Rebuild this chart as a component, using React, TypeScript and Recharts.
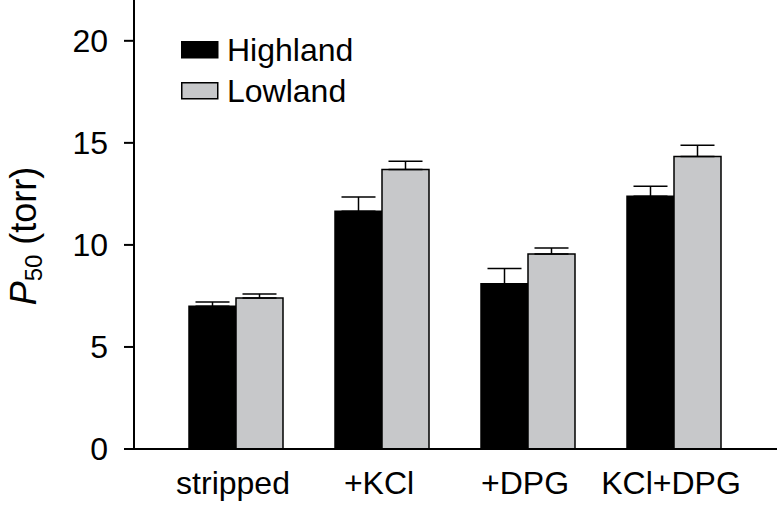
import { BarChart, Bar, XAxis, YAxis, ErrorBar } from 'recharts';

const categories = ['stripped', '+KCl', '+DPG', 'KCl+DPG'];
const highland = [7.0, 11.65, 8.1, 12.38];
const highlandErr = [0.2, 0.7, 0.75, 0.5];
const lowland = [7.4, 13.7, 9.55, 14.33];
const lowlandErr = [0.2, 0.4, 0.3, 0.55];
const yTicks = [0, 5, 10, 15, 20];

const FONT = '"Liberation Sans", Arial, sans-serif';
const GRAY = '#c7c8ca';

// error bars only point up, so lower bound is 0
const data = categories.map((name, i) => ({
  name,
  highland: highland[i],
  hErr: [0, highlandErr[i]],
  lowland: lowland[i],
  lErr: [0, lowlandErr[i]],
}));

function LegendBox() {
  const items = [
    { label: 'Highland', fill: '#000' },
    { label: 'Lowland', fill: GRAY },
  ];
  const top = 20;
  return (
    <svg width={240} height={110} style={{ display: 'block' }}>
      {items.map((it, i) => (
        <g key={it.label}>
          <rect x={0.75} y={top + 0.75 + i * 41} width={36} height={16} fill={it.fill} stroke="#000" strokeWidth={1.5} />
          <text x={46} y={top + 8.5 + i * 41} dy="0.355em" fontSize={32} fontFamily={FONT} fill="#000">
            {it.label}
          </text>
        </g>
      ))}
    </svg>
  );
}

function YLabel() {
  const x = 36;
  const y = 236;
  return (
    <text
      x={x}
      y={y}
      transform={`rotate(-90 ${x} ${y})`}
      textAnchor="middle"
      fontFamily={FONT}
      fontSize={36}
      fill="#000"
    >
      <tspan fontStyle="italic">P</tspan>
      <tspan fontSize={24} dy={6}>50</tspan>
      <tspan dy={-6}> (torr)</tspan>
    </text>
  );
}

export default function App() {
  return (
    <div style={{ position: 'absolute', left: 0, top: 0, width: 777, height: 506, background: '#fff' }}>
      <BarChart
        width={777}
        height={506}
        data={data}
        margin={{ top: 0, right: 0, left: 0, bottom: 0 }}
        barGap={0}
        barSize={47}
      >
        <XAxis
          dataKey="name"
          height={57}
          interval={0}
          padding={{ left: 29, right: 30 }}
          axisLine={{ stroke: '#000', strokeWidth: 2 }}
          tickLine={false}
          tickSize={0}
          tickMargin={22}
          tick={{ fontSize: 32, fontFamily: FONT, fill: '#000', dx: -3 }}
        />
        <YAxis
          width={134}
          domain={[0, 22]}
          ticks={yTicks}
          allowDataOverflow
          axisLine={{ stroke: '#000', strokeWidth: 2 }}
          tickLine={{ stroke: '#000', strokeWidth: 2 }}
          tickSize={10}
          tickMargin={16}
          tick={{ fontSize: 32, fontFamily: FONT, fill: '#000' }}
          label={<YLabel />}
        />
        <Bar dataKey="highland" name="Highland" fill="#000" stroke="#000" strokeWidth={1.5} isAnimationActive={false}>
          <ErrorBar dataKey="hErr" width={17} stroke="#000" strokeWidth={1.5} direction="y" />
        </Bar>
        <Bar dataKey="lowland" name="Lowland" fill={GRAY} stroke="#000" strokeWidth={1.5} isAnimationActive={false}>
          <ErrorBar dataKey="lErr" width={17} stroke="#000" strokeWidth={1.5} direction="y" />
        </Bar>
      </BarChart>
      <div style={{ position: 'absolute', left: 181, top: 21 }}>
        <LegendBox />
      </div>
    </div>
  );
}
